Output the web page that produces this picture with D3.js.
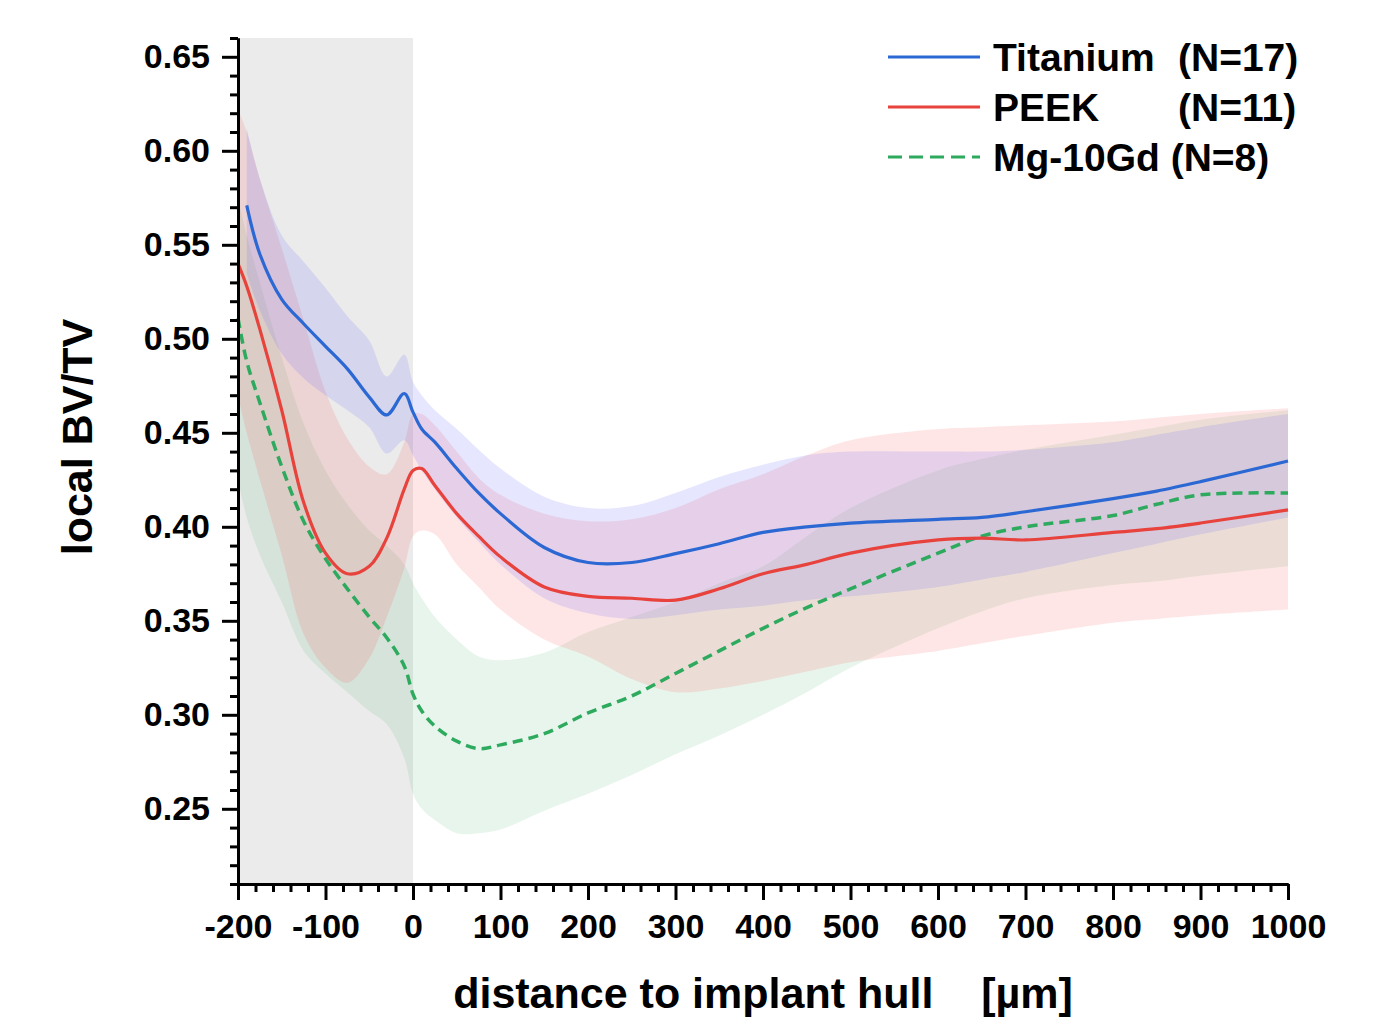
<!DOCTYPE html>
<html>
<head>
<meta charset="utf-8">
<script src="https://cdn.jsdelivr.net/npm/d3@7"></script>
<style>
  body { margin: 0; background: #fff; }
  text { font-family: "Liberation Sans", Arial, sans-serif; font-weight: bold; fill: #000; }
</style>
</head>
<body>
<div id="chart"></div>
<script>
// distance to implant hull [µm]
var distance = [-200, -190, -175, -150, -125, -100, -75, -50, -30, -10, 0, 10, 25, 50, 75, 100,
  150, 200, 250, 300, 350, 400, 450, 500, 600, 650, 700, 800, 850, 900, 1000];

var titaniumMean = [null, 0.571, 0.545, 0.521, 0.508, 0.496, 0.484, 0.469, 0.4595, 0.4709, 0.461, 0.452, 0.445, 0.431, 0.418, 0.407,
  0.389, 0.381, 0.381, 0.3857, 0.391, 0.397, 0.400, 0.402, 0.404, 0.405, 0.408, 0.415, 0.419, 0.424, 0.435];
var titaniumLow = [null, 0.535, 0.515, 0.492, 0.479, 0.470, 0.462, 0.453, 0.439, 0.446, 0.438, 0.430, 0.420, 0.405, 0.392, 0.380,
  0.362, 0.354, 0.351, 0.353, 0.356, 0.358, 0.361, 0.363, 0.368, 0.372, 0.376, 0.386, 0.391, 0.396, 0.405];
var titaniumHigh = [null, 0.612, 0.585, 0.555, 0.541, 0.527, 0.512, 0.499, 0.480, 0.4915, 0.477, 0.470, 0.462, 0.452, 0.441, 0.431,
  0.416, 0.410, 0.411, 0.418, 0.4265, 0.433, 0.438, 0.440, 0.440, 0.440, 0.441, 0.445, 0.449, 0.453, 0.460];

var peekMean = [0.540, 0.528, 0.505, 0.462, 0.413, 0.386, 0.375, 0.379, 0.394, 0.420, 0.430, 0.431, 0.422, 0.407, 0.395, 0.384,
  0.368, 0.363, 0.362, 0.361, 0.367, 0.375, 0.380, 0.386, 0.393, 0.394, 0.393, 0.397, 0.399, 0.402, 0.409];
var peekLow = [0.470, 0.450, 0.425, 0.385, 0.343, 0.325, 0.317, 0.330, 0.352, 0.378, 0.395, 0.398, 0.396, 0.380, 0.368, 0.356,
  0.340, 0.331, 0.319, 0.312, 0.314, 0.318, 0.323, 0.328, 0.334, 0.338, 0.342, 0.349, 0.351, 0.353, 0.356];
var peekHigh = [0.622, 0.610, 0.585, 0.548, 0.510, 0.472, 0.447, 0.432, 0.428, 0.445, 0.460, 0.460, 0.454, 0.440, 0.426, 0.417,
  0.407, 0.403, 0.404, 0.410, 0.420, 0.428, 0.438, 0.446, 0.452, 0.453, 0.454, 0.456, 0.458, 0.460, 0.463];

var mgMean = [0.511, 0.488, 0.466, 0.432, 0.403, 0.383, 0.367, 0.352, 0.341, 0.326, 0.311, 0.302, 0.294, 0.286, 0.282, 0.284,
  0.290, 0.301, 0.310, 0.322, 0.334, 0.346, 0.357, 0.367, 0.386, 0.395, 0.400, 0.406, 0.412, 0.417, 0.418];
var mgLow = [0.425, 0.405, 0.385, 0.360, 0.334, 0.322, 0.312, 0.302, 0.295, 0.277, 0.258, 0.250, 0.244, 0.237, 0.237, 0.239,
  0.249, 0.258, 0.268, 0.279, 0.289, 0.300, 0.312, 0.325, 0.346, 0.355, 0.362, 0.369, 0.371, 0.374, 0.379];
var mgHigh = [0.575, 0.555, 0.530, 0.490, 0.455, 0.430, 0.412, 0.398, 0.390, 0.380, 0.370, 0.362, 0.352, 0.340, 0.331, 0.329,
  0.333, 0.344, 0.352, 0.360, 0.370, 0.379, 0.395, 0.410, 0.430, 0.436, 0.441, 0.449, 0.453, 0.457, 0.462];

var xTickValues = [-200, -100, 0, 100, 200, 300, 400, 500, 600, 700, 800, 900, 1000];
var yTickValues = [0.25, 0.30, 0.35, 0.40, 0.45, 0.50, 0.55, 0.60, 0.65];
var implantZone = [-200, 0];

var seriesNames = ["Titanium", "PEEK", "Mg-10Gd"];
var seriesCounts = ["(N=17)", "(N=11)", "(N=8)"];

var width = 1373;
var height = 1019;
var plotLeft = 238, plotRight = 1288, plotTop = 38, plotBottom = 884;

var svg = d3.select("#chart")
  .append("svg")
  .attr("width", width)
  .attr("height", height);

var xScale = d3.scaleLinear().domain([-200, 1000]).range([plotLeft, plotRight]);
var yScale = d3.scaleLinear().domain([0.21, 0.66]).range([plotBottom, plotTop]);

// grey zone = inside implant
svg.append("rect")
  .attr("x", xScale(implantZone[0]))
  .attr("y", plotTop)
  .attr("width", xScale(implantZone[1]) - xScale(implantZone[0]))
  .attr("height", plotBottom - plotTop)
  .attr("fill", "#ebebeb");

function makeRows(mean, lo, hi) {
  return distance.map(function(d, i) {
    return { x: d, m: mean[i], lo: lo[i], hi: hi[i] };
  });
}

var series = [
  { name: "Titanium", rows: makeRows(titaniumMean, titaniumLow, titaniumHigh), line: "#2b68d3", band: "rgb(90,90,255)", op: 0.15, dash: null },
  { name: "PEEK", rows: makeRows(peekMean, peekLow, peekHigh), line: "#e8423d", band: "rgb(255,64,64)", op: 0.13, dash: null },
  { name: "Mg-10Gd", rows: makeRows(mgMean, mgLow, mgHigh), line: "#2eaa5e", band: "rgb(64,176,96)", op: 0.12, dash: "10,6" }
];

var curve = d3.curveCatmullRom.alpha(0.5);

var area = d3.area()
  .defined(function(d) { return d.lo != null; })
  .x(function(d) { return xScale(d.x); })
  .y0(function(d) { return yScale(d.lo); })
  .y1(function(d) { return yScale(d.hi); })
  .curve(curve);

var line = d3.line()
  .defined(function(d) { return d.m != null; })
  .x(function(d) { return xScale(d.x); })
  .y(function(d) { return yScale(d.m); })
  .curve(curve);

// draw bands first, then lines on top
[series[2], series[1], series[0]].forEach(function(s) {
  svg.append("path")
    .datum(s.rows)
    .attr("d", area)
    .attr("fill", s.band)
    .attr("fill-opacity", s.op);
});

[series[2], series[1], series[0]].forEach(function(s) {
  svg.append("path")
    .datum(s.rows)
    .attr("d", line)
    .attr("fill", "none")
    .attr("stroke", s.line)
    .attr("stroke-width", s.dash ? 3.5 : 3.2)
    .attr("stroke-dasharray", s.dash);
});

// axes
var xMinor = d3.range(-200, 1001, 20).filter(function(v) { return v % 100 !== 0; });
var yMinor = d3.range(21, 67, 1).map(function(v) { return v / 100; })
  .filter(function(v) { return Math.round(v * 100) % 5 !== 0; });

svg.append("g")
  .attr("class", "xMinor")
  .attr("transform", "translate(0," + plotBottom + ")")
  .call(d3.axisBottom(xScale).tickValues(xMinor).tickSize(8).tickSizeOuter(0).tickFormat(""));

svg.append("g")
  .attr("class", "yMinor")
  .attr("transform", "translate(" + plotLeft + ",0)")
  .call(d3.axisLeft(yScale).tickValues(yMinor).tickSize(8).tickSizeOuter(0).tickFormat(""));

var xAxis = d3.axisBottom(xScale).tickValues(xTickValues).tickSize(16).tickSizeOuter(0).tickPadding(14)
  .tickFormat(function(d) { return String(d); });
var yAxis = d3.axisLeft(yScale).tickValues(yTickValues).tickSize(16).tickSizeOuter(0).tickPadding(12)
  .tickFormat(d3.format(".2f"));

svg.append("g")
  .attr("class", "xAxis")
  .attr("transform", "translate(0," + plotBottom + ")")
  .call(xAxis);

svg.append("g")
  .attr("class", "yAxis")
  .attr("transform", "translate(" + plotLeft + ",0)")
  .call(yAxis);

svg.selectAll(".xAxis path, .yAxis path, .xMinor path, .yMinor path")
  .attr("stroke", "#000").attr("stroke-width", 3);
svg.selectAll(".tick line").attr("stroke", "#000").attr("stroke-width", 3);
svg.selectAll(".xAxis text, .yAxis text")
  .style("font-size", "34px")
  .style("font-family", "'Liberation Sans', Arial, sans-serif")
  .style("font-weight", "bold")
  .attr("fill", "#000");

// axis titles
svg.append("text")
  .attr("x", (plotLeft + plotRight) / 2)
  .attr("y", 1008)
  .attr("text-anchor", "middle")
  .style("font-size", "43px")
  .style("white-space", "pre")
  .text("distance to implant hull    [\u00b5m]");

svg.append("text")
  .attr("transform", "translate(92,437)rotate(-90)")
  .attr("text-anchor", "middle")
  .style("font-size", "43px")
  .text("local BV/TV");

// legend
var legend = svg.append("g").attr("class", "legend");
series.forEach(function(s, i) {
  var ly = 57 + i * 50;
  legend.append("line")
    .attr("x1", 888).attr("x2", 980)
    .attr("y1", ly).attr("y2", ly)
    .attr("stroke", s.line)
    .attr("stroke-width", 3.2)
    .attr("stroke-dasharray", s.dash ? "14,7" : null);
  if (i < 2) {
    legend.append("text").attr("x", 993).attr("y", ly + 14).style("font-size", "39px").text(seriesNames[i]);
    legend.append("text").attr("x", 1178).attr("y", ly + 14).style("font-size", "39px").text(seriesCounts[i]);
  } else {
    legend.append("text").attr("x", 993).attr("y", ly + 14).style("font-size", "39px")
      .text(seriesNames[i] + " " + seriesCounts[i]);
  }
});
</script>
</body>
</html>
